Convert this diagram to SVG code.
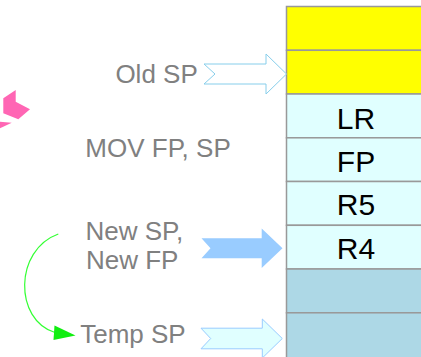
<svg xmlns="http://www.w3.org/2000/svg" width="421" height="357" viewBox="0 0 421 357">
<style>
.lbl{font-family:"Liberation Sans",Arial,sans-serif;font-size:26px;fill:#808080}
.stk{font-family:"Liberation Sans",Arial,sans-serif;font-size:30px;fill:#000;text-anchor:middle}
.cell{stroke:#999;stroke-width:1.5}
.y{fill:#ffff00}.c{fill:#e0ffff}.b{fill:#add8e6}
</style>
<rect width="421" height="357" fill="#fff"/>
<g id="pink">
<polygon points="3.3,98.3 15.7,90 15.7,101.7 30,109.3 18.3,119.3 3.3,113.3" fill="#ff66b4"/>
<polygon points="0,121.7 11.7,122.7 0,128.3" fill="#ff66b4"/>
</g>
<g id="stack">
<rect class="cell y" x="286.5" y="6.5" width="140" height="43.8"/>
<rect class="cell y" x="286.5" y="50.3" width="140" height="43.7"/>
<g id="lr"><rect class="cell c" x="286.5" y="94" width="140" height="43.8"/><text class="stk" x="356" y="128.5">LR</text></g>
<g id="fp"><rect class="cell c" x="286.5" y="137.8" width="140" height="43.7"/><text class="stk" x="356" y="171.5">FP</text></g>
<g id="r5"><rect class="cell c" x="286.5" y="181.5" width="140" height="43.8"/><text class="stk" x="356" y="214.5">R5</text></g>
<g id="r4"><rect class="cell c" x="286.5" y="225.3" width="140" height="43.7"/><text class="stk" x="356" y="258.5">R4</text></g>
<rect class="cell b" x="286.5" y="269" width="140" height="43.8"/>
<rect class="cell b" x="286.5" y="312.8" width="140" height="60"/>
</g>
<g id="oldsp">
<text class="lbl" x="115.4" y="83">Old SP</text>
<polygon points="204,64 266,64 266,54 286.5,74 266,94 266,84 204,84 215,74" fill="#fff" stroke="#87ceeb" stroke-width="1"/>
</g>
<g id="mov"><text class="lbl" x="85.3" y="157">MOV FP, SP</text></g>
<g id="newsp">
<text class="lbl" x="85.5" y="240">New SP,</text>
<text class="lbl" x="86" y="269.3">New FP</text>
<polygon points="201.5,238.3 261.7,238.3 261.7,228.5 282.5,248.3 261.7,268 261.7,258.3 201.5,258.3 210.5,248.3" fill="#99ccff"/>
</g>
<g id="tempsp">
<text class="lbl" x="80.2" y="343.3">Temp SP</text>
<polygon points="201,328.2 262.3,328.2 262.3,319 282.3,338.5 262.3,358 262.3,348.8 201,348.8 210.7,338.5" fill="#e0ffff" stroke="#99ccff" stroke-width="1"/>
</g>
<g id="connectors">
<path d="M58.3,234 C14,250 14,320 55,332.5" fill="none" stroke="#33ff33" stroke-width="1.2"/>
<polygon points="54.5,325.5 75.5,335.5 53.5,340" fill="#11ee11"/>
</g>
</svg>
